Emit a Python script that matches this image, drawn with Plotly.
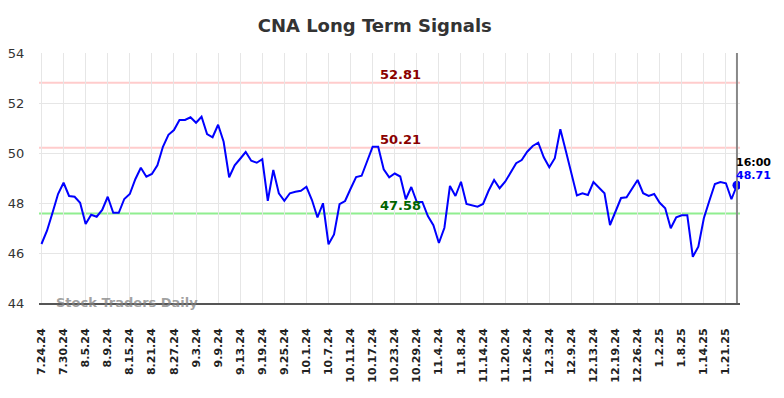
import datetime as dt
import plotly.graph_objects as go

# ---- data ----
trading_days = [
    "2024-07-24", "2024-07-25", "2024-07-26", "2024-07-29", "2024-07-30", "2024-07-31",
    "2024-08-01", "2024-08-02", "2024-08-05", "2024-08-06", "2024-08-07", "2024-08-08", "2024-08-09",
    "2024-08-12", "2024-08-13", "2024-08-14", "2024-08-15", "2024-08-16", "2024-08-19", "2024-08-20",
    "2024-08-21", "2024-08-22", "2024-08-23", "2024-08-26", "2024-08-27", "2024-08-28", "2024-08-29",
    "2024-08-30", "2024-09-03", "2024-09-04", "2024-09-05", "2024-09-06", "2024-09-09", "2024-09-10",
    "2024-09-11", "2024-09-12", "2024-09-13", "2024-09-16", "2024-09-17", "2024-09-18", "2024-09-19",
    "2024-09-20", "2024-09-23", "2024-09-24", "2024-09-25", "2024-09-26", "2024-09-27", "2024-09-30",
    "2024-10-01", "2024-10-02", "2024-10-03", "2024-10-04", "2024-10-07", "2024-10-08", "2024-10-09",
    "2024-10-10", "2024-10-11", "2024-10-14", "2024-10-15", "2024-10-16", "2024-10-17", "2024-10-18",
    "2024-10-21", "2024-10-22", "2024-10-23", "2024-10-24", "2024-10-25", "2024-10-28", "2024-10-29",
    "2024-10-30", "2024-10-31", "2024-11-01", "2024-11-04", "2024-11-05", "2024-11-06", "2024-11-07",
    "2024-11-08", "2024-11-11", "2024-11-12", "2024-11-13", "2024-11-14", "2024-11-15", "2024-11-18",
    "2024-11-19", "2024-11-20", "2024-11-21", "2024-11-22", "2024-11-25", "2024-11-26", "2024-11-27",
    "2024-11-29", "2024-12-02", "2024-12-03", "2024-12-04", "2024-12-05", "2024-12-06", "2024-12-09",
    "2024-12-10", "2024-12-11", "2024-12-12", "2024-12-13", "2024-12-16", "2024-12-17", "2024-12-18",
    "2024-12-19", "2024-12-20", "2024-12-23", "2024-12-24", "2024-12-26", "2024-12-27", "2024-12-30",
    "2024-12-31", "2025-01-02", "2025-01-03", "2025-01-06", "2025-01-07", "2025-01-08", "2025-01-09",
    "2025-01-10", "2025-01-13", "2025-01-14", "2025-01-15", "2025-01-16", "2025-01-17", "2025-01-21",
    "2025-01-22", "2025-01-23",
]

prices = [
    46.36, 46.89, 47.61, 48.36, 48.81, 48.28, 48.25, 48.01, 47.16, 47.53,
    47.45, 47.72, 48.25, 47.61, 47.61, 48.16, 48.36, 48.95, 49.41, 49.05,
    49.16, 49.51, 50.25, 50.73, 50.92, 51.32, 51.32, 51.43, 51.21, 51.45,
    50.76, 50.63, 51.13, 50.45, 49.03, 49.51, 49.77, 50.04, 49.69, 49.61,
    49.75, 48.09, 49.32, 48.39, 48.09, 48.39, 48.45, 48.49, 48.65, 48.12,
    47.42, 47.99, 46.35, 46.74, 47.95, 48.08, 48.57, 49.04, 49.09, 49.67,
    50.25, 50.25, 49.35, 49.03, 49.18, 49.06, 48.15, 48.64, 48.04, 48.04,
    47.48, 47.11, 46.40, 47.01, 48.68, 48.28, 48.85, 47.96, 47.91, 47.85,
    47.96, 48.49, 48.92, 48.59, 48.85, 49.21, 49.59, 49.72, 50.05, 50.28,
    50.41, 49.83, 49.43, 49.79, 50.95, 50.08, 49.18, 48.30, 48.39, 48.32,
    48.84, 48.63, 48.39, 47.12, 47.69, 48.20, 48.23, 48.59, 48.92, 48.39,
    48.28, 48.36, 48.01, 47.79, 46.99, 47.43, 47.51, 47.51, 45.85, 46.25,
    47.39, 48.09, 48.76, 48.84, 48.79, 48.15, 48.71,
]

resistance_levels = [52.81, 50.21]
support_levels = [47.58]
last_time_label = "16:00"
y_ticks = [44, 46, 48, 50, 52, 54]


def fmt(d):
    t = dt.date.fromisoformat(d)
    return f"{t.month}.{t.day}.{t.year % 100}"


labels = [fmt(d) for d in trading_days]
tick_vals = labels[::4]
tick_text = [f"<b>{t}</b>" for t in tick_vals]

FONT = "DejaVu Sans"

fig = go.Figure()
fig.add_trace(go.Scatter(
    x=labels, y=prices, mode="lines",
    line=dict(color="#0000ff", width=2), hoverinfo="skip", showlegend=False,
))
fig.add_trace(go.Scatter(
    x=[labels[-1]], y=[prices[-1]], mode="markers",
    marker=dict(color="#0000ff", size=9), showlegend=False, hoverinfo="skip",
))

shapes = []
annotations = []
mid_label = labels[65]
for lv in resistance_levels:
    shapes.append(dict(type="line", xref="paper", x0=0, x1=1, yref="y", y0=lv, y1=lv,
                       line=dict(color="#ffcccc", width=2), layer="below"))
    annotations.append(dict(x=mid_label, y=lv, xref="x", yref="y", text=f"<b>{lv:.2f}</b>",
                            showarrow=False, yanchor="bottom", yshift=-1,
                            font=dict(family=FONT, size=13, color="#8b0000")))
for lv in support_levels:
    shapes.append(dict(type="line", xref="paper", x0=0, x1=1, yref="y", y0=lv, y1=lv,
                       line=dict(color="#90ee90", width=2), layer="below"))
    annotations.append(dict(x=mid_label, y=lv, xref="x", yref="y", text=f"<b>{lv:.2f}</b>",
                            showarrow=False, yanchor="bottom", yshift=-1,
                            font=dict(family=FONT, size=13, color="#006400")))

# vertical marker line at last point
shapes.append(dict(type="line", xref="x", x0=labels[-1], x1=labels[-1], yref="paper", y0=0, y1=1,
                   line=dict(color="#888888", width=2)))

annotations.append(dict(x=labels[-1], y=prices[-1], xref="x", yref="y",
                        text=f"<b>{last_time_label}</b>", showarrow=False,
                        xanchor="left", yanchor="middle", xshift=-3, yshift=23,
                        font=dict(family=FONT, size=11, color="#000000")))
annotations.append(dict(x=labels[-1], y=prices[-1], xref="x", yref="y",
                        text=f"<b>{prices[-1]:.2f}</b>", showarrow=False,
                        xanchor="left", yanchor="middle", xshift=-3, yshift=10,
                        font=dict(family=FONT, size=11, color="#0000ff")))
annotations.append(dict(x=0.022, y=0.0, xref="paper", yref="paper",
                        text="<b>Stock Traders Daily</b>", showarrow=False,
                        xanchor="left", yanchor="middle", yshift=1,
                        font=dict(family=FONT, size=13, color="rgba(130,130,130,0.75)")))

fig.update_layout(
    width=784, height=398,
    margin=dict(l=39, r=44, t=53, b=95, autoexpand=False),
    paper_bgcolor="white", plot_bgcolor="white",
    title=dict(text="<b>CNA Long Term Signals</b>", x=0.478, xanchor="center", y=0.935,
               yanchor="middle", font=dict(family=FONT, size=18, color="#333333")),
    shapes=shapes, annotations=annotations,
    font=dict(family=FONT),
    xaxis=dict(
        type="category", range=[-0.45, len(labels) - 0.45], automargin=False,
        tickmode="array", tickvals=tick_vals, ticktext=tick_text,
        tickangle=-90, ticks="outside", ticklen=19, tickcolor="rgba(0,0,0,0)",
        tickfont=dict(family=FONT, size=11, color="#222222"),
        showgrid=True, gridcolor="#e6e6e6", gridwidth=1,
        showline=True, linecolor="#555555", linewidth=2,
        zeroline=False, fixedrange=True,
    ),
    yaxis=dict(
        range=[44, 54], tickmode="array", tickvals=y_ticks, automargin=False,
        ticks="outside", ticklen=11, tickcolor="rgba(0,0,0,0)",
        tickfont=dict(family=FONT, size=13, color="#333333"),
        showgrid=True, gridcolor="#e6e6e6", gridwidth=1,
        zeroline=False, showline=False, fixedrange=True,
    ),
)

fig.write_html(
    "out.html",
    config={"displayModeBar": False},
    post_script="document.body.style.margin='0';document.body.style.padding='0';",
)
